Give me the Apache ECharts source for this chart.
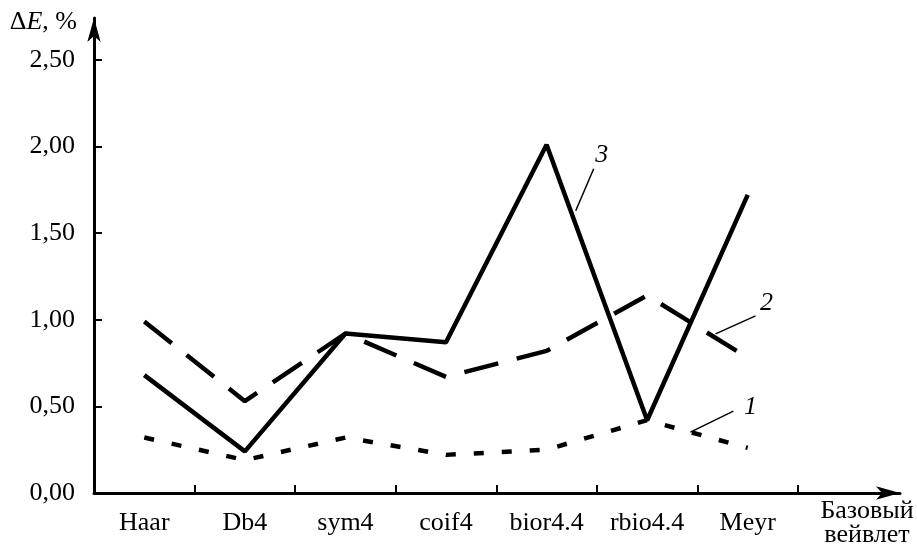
<!DOCTYPE html>
<html>
<head>
<meta charset="utf-8">
<script src="https://cdn.jsdelivr.net/npm/echarts@6/dist/echarts.min.js"></script>
<style>html,body{margin:0;padding:0;background:#fff;}#c{width:917px;height:545px;}</style>
</head>
<body>
<div id="c"></div>
<script>
const categories = ['Haar', 'Db4', 'sym4', 'coif4', 'bior4.4', 'rbio4.4', 'Meyr'];
const series1 = [0.32, 0.19, 0.32, 0.22, 0.25, 0.42, 0.26]; // curve 1 (dotted)
const series2 = [0.99, 0.53, 0.92, 0.67, 0.82, 1.14, 0.78]; // curve 2 (dashed)
const series3 = [0.68, 0.24, 0.92, 0.87, 2.01, 0.42, 1.72]; // curve 3 (solid)
const yTicks = [0, 0.5, 1, 1.5, 2, 2.5];
const curveNames = ['1', '2', '3'];
const xTitle = 'Базовый\nвейвлет';

const FONT = 'Liberation Serif, Times New Roman, serif';
const chart = echarts.init(document.getElementById('c'), null, {renderer: 'canvas'});

const yMax = 2.741;
const gridBottom = 52;
const gridTop = 545 - gridBottom - yMax * 173.3;

const axisLineStyle = {color: '#000', width: 3};

chart.setOption({
  animation: false,
  backgroundColor: '#fff',
  grid: [
    {left: 94, right: 119, top: gridTop, bottom: gridBottom, containLabel: false, outerBoundsMode: 'none'},
    {left: 94, right: 17, top: gridTop, bottom: gridBottom, containLabel: false, outerBoundsMode: 'none'}
  ],
  xAxis: [
    {
      type: 'category', gridIndex: 0, data: categories, boundaryGap: true,
      axisLine: {show: false, onZero: false, lineStyle: axisLineStyle},
      axisTick: {show: true, inside: true, length: 8, lineStyle: {color: '#000', width: 2}},
      axisLabel: {color: '#000', fontFamily: FONT, fontSize: 26, margin: 17, interval: 0},
      splitLine: {show: false}
    },
    {
      type: 'value', gridIndex: 1, min: 0, max: 1,
      axisLine: {show: true, onZero: false, lineStyle: axisLineStyle, symbol: ['none', 'arrow'], symbolSize: [10, 24]},
      axisTick: {show: false}, axisLabel: {show: false}, splitLine: {show: false},
      name: xTitle, nameLocation: 'end', nameGap: -33,
      nameTextStyle: {color: '#000', fontFamily: FONT, fontSize: 26, lineHeight: 24, align: 'center', verticalAlign: 'top', padding: [6, 0, 0, 0]}
    }
  ],
  yAxis: [
    {
      type: 'value', gridIndex: 0, min: 0, max: yMax,
      axisLine: {show: true, lineStyle: axisLineStyle, symbol: ['none', 'arrow'], symbolSize: [10, 24]},
      axisTick: {show: true, inside: true, length: 8, customValues: yTicks, lineStyle: {color: '#000', width: 2}},
      axisLabel: {
        show: true, customValues: yTicks, color: '#000', fontFamily: FONT, fontSize: 26, margin: 19,
        formatter: v => v.toFixed(2).replace('.', ',')
      },
      splitLine: {show: false},
      name: '{d|Δ}{e|E}{d|, %}', nameLocation: 'end', nameGap: -4,
      nameTextStyle: {
        align: 'right', verticalAlign: 'middle', padding: [0, 17, 0, 0],
        rich: {
          d: {color: '#000', fontFamily: FONT, fontSize: 26},
          e: {color: '#000', fontFamily: FONT, fontSize: 26, fontStyle: 'italic'}
        }
      }
    },
    {type: 'value', gridIndex: 1, min: 0, max: 1, show: false}
  ],
  series: [
    {name: curveNames[0], type: 'line', xAxisIndex: 0, yAxisIndex: 0, data: series1, symbol: 'none',
     lineStyle: {color: '#000', width: 4.5, type: [10, 18], cap: 'butt'}},
    {name: curveNames[1], type: 'line', xAxisIndex: 0, yAxisIndex: 0, data: series2, symbol: 'none',
     lineStyle: {color: '#000', width: 4.5, type: [35, 19], cap: 'butt'}},
    {name: curveNames[2], type: 'line', xAxisIndex: 0, yAxisIndex: 0, data: series3, symbol: 'none',
     lineStyle: {color: '#000', width: 4.5}}
  ]
});

// Leader lines + curve numbers, anchored on the drawn segments
const allSeries = [series1, series2, series3];
const annots = [
  {s: 0, seg: 5, t: 0.43, start: [0, 0], d: [43, -21], lab: [17, -4]},
  {s: 1, seg: 5, t: 0.68, start: [0, -4], d: [40, -18], lab: [11, -13]},
  {s: 2, seg: 4, t: 0.24, start: [5, 0], d: [18, -42], lab: [8, -14]}
];
const graphics = [];
annots.forEach(a => {
  const data = allSeries[a.s];
  const p0 = chart.convertToPixel({gridIndex: 0}, [a.seg, data[a.seg]]);
  const p1 = chart.convertToPixel({gridIndex: 0}, [a.seg + 1, data[a.seg + 1]]);
  const ax = p0[0] + (p1[0] - p0[0]) * a.t + a.start[0];
  const ay = p0[1] + (p1[1] - p0[1]) * a.t + a.start[1];
  const ex = ax + a.d[0], ey = ay + a.d[1];
  graphics.push({type: 'line', shape: {x1: ax, y1: ay, x2: ex, y2: ey}, style: {stroke: '#000', lineWidth: 1.5}});
  graphics.push({type: 'text', x: ex + a.lab[0], y: ey + a.lab[1],
    style: {text: curveNames[a.s], fill: '#000', font: 'italic 26px ' + FONT, align: 'center', verticalAlign: 'middle'}});
});
chart.setOption({graphic: graphics});
</script>
</body>
</html>
